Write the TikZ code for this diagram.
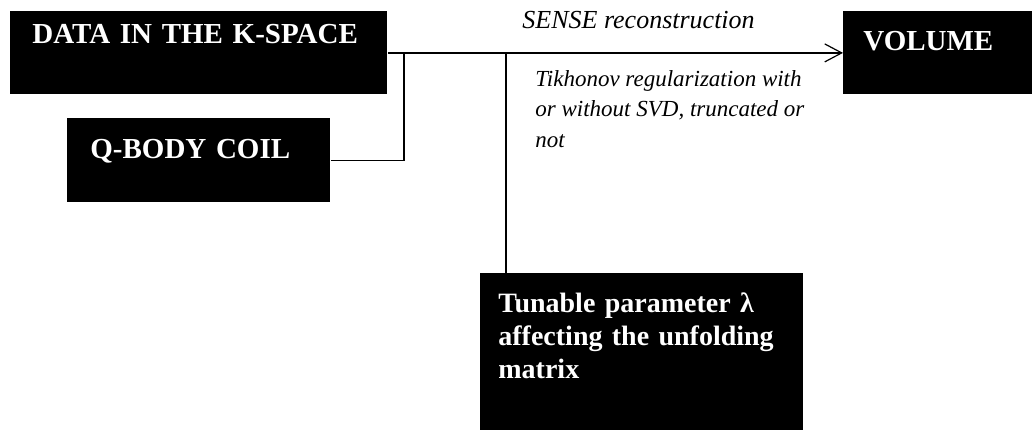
\documentclass[tikz,border=0pt]{standalone}
\usepackage{fontspec}
\setmainfont{Liberation Serif}
\usepackage{tikz}
\usetikzlibrary{arrows.meta}

\begin{document}
\begin{tikzpicture}[x=0.5pt, y=-0.5pt, >={Straight Barb[length=8.5pt,width=9pt]},
    blackbox/.style={fill=black, text=white, anchor=north west, align=left, inner ysep=0pt,
      font=\fontsize{14.5pt}{16.5pt}\selectfont\bfseries},
    note/.style={align=left, inner sep=0pt, font=\fontsize{11.5pt}{15.25pt}\selectfont\itshape},
    wire/.style={line width=0.6pt}]
    \useasboundingbox (0,0) rectangle (1032,429);
    \node[blackbox, inner xsep=11pt, text width=166.5pt, text height=16pt, text depth=25.5pt] (kspace) at (10,11) {DATA IN THE K-SPACE};
    \node[blackbox, inner xsep=11.5pt, text width=108.5pt, text height=20pt, text depth=22pt] (coil) at (67,118) {Q-BODY COIL};
    \node[blackbox, inner xsep=10pt, text width=74.5pt, text height=19.5pt, text depth=22pt] (volume) at (843,11) {VOLUME};
    \node[blackbox, inner xsep=9pt, text width=143.5pt, text height=19.5pt, text depth=60pt,
      font=\fontsize{14pt}{16.5pt}\selectfont\bfseries] (lambda) at (480,273) {Tunable parameter λ\\affecting the unfolding\\matrix};
    \coordinate (join) at (404,53);
    \coordinate (branch) at (506,53);
    \node[note, anchor=base west, font=\fontsize{13pt}{15pt}\selectfont\itshape] (sense) at (522,28) {SENSE reconstruction};
    \node[note, anchor=base west] (tikhonov) at (535,147) {Tikhonov regularization with\\or without SVD, truncated or\\not};
    \draw[wire, ->] (kspace.east) -- (volume.west);
    \draw[wire] (coil.east) -| (join);
    \draw[wire] (branch) -- (branch |- lambda.north);
\end{tikzpicture}
\end{document}
